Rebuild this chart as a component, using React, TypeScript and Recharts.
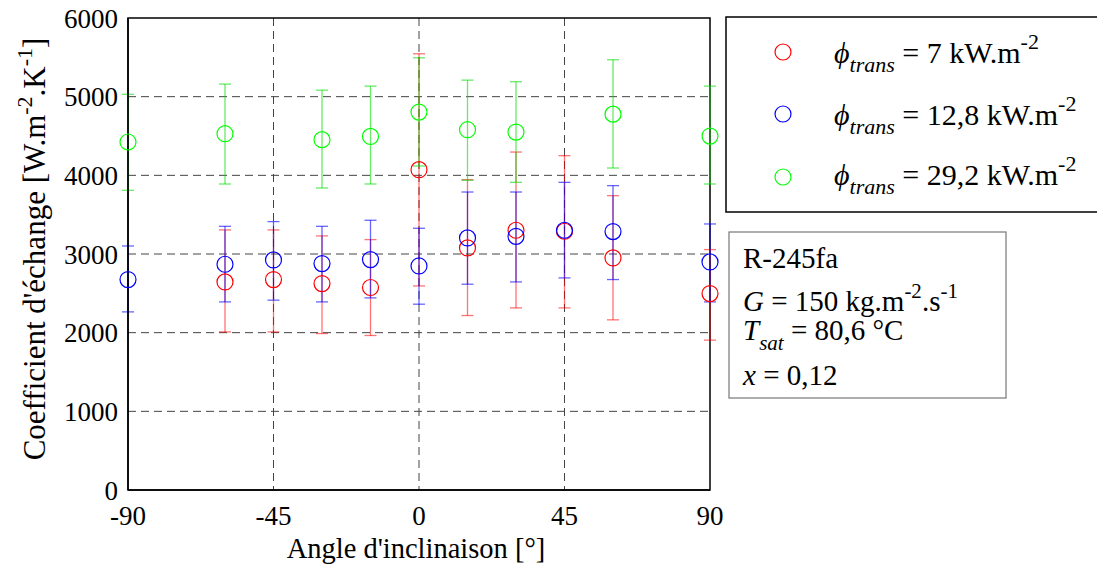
import React from "react";
import {
  ScatterChart,
  Scatter,
  XAxis,
  YAxis,
  CartesianGrid,
  ErrorBar,
  ReferenceArea,
} from "recharts";

// angles [°] and transfer coefficients [W.m-2.K-1]
const redAngles = [-60, -45, -30, -15, 0, 15, 30, 45, 60, 90];
const redValues = [2645, 2675, 2624, 2574, 4072, 3077, 3302, 3289, 2950, 2497];
const redLow = [2010, 2010, 1989, 1964, 2594, 2218, 2315, 2315, 2163, 1905];
const redHigh = [3306, 3306, 3230, 3183, 5545, 3945, 4296, 4250, 3742, 3056];

const blueAngles = [-90, -60, -45, -30, -15, 0, 15, 30, 45, 60, 90];
const blueValues = [2675, 2870, 2925, 2878, 2929, 2848, 3204, 3225, 3302, 3285, 2899];
const blueLow = [2264, 2391, 2413, 2391, 2442, 2362, 2616, 2645, 2696, 2675, 2391];
const blueHigh = [3102, 3352, 3412, 3352, 3429, 3327, 3788, 3788, 3911, 3869, 3382];

const greenAngles = [-90, -60, -30, -15, 0, 15, 30, 60, 90];
const greenValues = [4424, 4529, 4453, 4495, 4804, 4580, 4550, 4778, 4499];
const greenLow = [3810, 3890, 3839, 3890, 4118, 3937, 3911, 4093, 3890];
const greenHigh = [5030, 5160, 5083, 5134, 5494, 5210, 5190, 5469, 5134];

const xTicks = [-90, -45, 0, 45, 90];
const yTicks = [0, 1000, 2000, 3000, 4000, 5000, 6000];

const FONT = "'Liberation Serif', 'Times New Roman', serif";

function build(angles: number[], values: number[], low: number[], high: number[]) {
  return angles.map((a, i) => ({
    x: a,
    y: values[i],
    err: [values[i] - low[i], high[i] - values[i]],
  }));
}

const redData = build(redAngles, redValues, redLow, redHigh);
const blueData = build(blueAngles, blueValues, blueLow, blueHigh);
const greenData = build(greenAngles, greenValues, greenLow, greenHigh);

const ring = (color: string) => (props: any) => (
  <circle cx={props.cx} cy={props.cy} r={8} fill="none" stroke={color} strokeWidth={1.2} />
);

const XLabel = (props: any) => {
  const vb = props.viewBox;
  return (
    <text x={vb.x + vb.width / 2 - 3} y={558} textAnchor="middle" fontFamily={FONT} fontSize={28.5} fill="#000">
      Angle d'inclinaison [°]
    </text>
  );
};

const YLabel = () => (
  <text
    x={0}
    y={45}
    transform="rotate(-90)"
    textAnchor="middle"
    fontFamily={FONT}
    fontSize={31}
    fill="#000"
  >
    <tspan x={-249}>Coefficient d'échange [W.m</tspan>
    <tspan fontSize={22} dy={-13}>-2</tspan>
    <tspan dy={13}>.K</tspan>
    <tspan fontSize={22} dy={-13}>-1</tspan>
    <tspan dy={13}>]</tspan>
  </text>
);

function Overlay() {
  const leg = [
    { color: "#ff0000", val: "7", cy: 52, base: 63 },
    { color: "#0000ff", val: "12,8", cy: 114, base: 125 },
    { color: "#00ff00", val: "29,2", cy: 177, base: 185 },
  ];
  return (
    <svg
      width={1097}
      height={564}
      style={{ position: "absolute", left: 0, top: 0, pointerEvents: "none" }}
      fontFamily={FONT}
    >
      <YLabel />
      <rect x={726} y={17} width={400} height={195} fill="#fff" stroke="#000" strokeWidth={1.5} />
      {leg.map((l) => (
        <g key={l.val}>
          <circle cx={783} cy={l.cy} r={8} fill="none" stroke={l.color} strokeWidth={1.2} />
          <text x={834} y={l.base} fontSize={30} fill="#000">
            <tspan fontStyle="italic">ϕ</tspan>
            <tspan fontStyle="italic" fontSize={22} dy={9}>trans</tspan>
            <tspan dy={-9}> = {l.val} kW.m</tspan>
            <tspan fontSize={22} dy={-14}>-2</tspan>
          </text>
        </g>
      ))}
      <rect x={729} y={232} width={277} height={166} fill="#fff" stroke="#777" strokeWidth={1.2} />
      <text x={743} y={268} fontSize={29} fill="#000">R-245fa</text>
      <text x={743} y={311} fontSize={29} fill="#000">
        <tspan fontStyle="italic">G</tspan>
        <tspan> = 150 kg.m</tspan>
        <tspan fontSize={21} dy={-13}>-2</tspan>
        <tspan dy={13}>.s</tspan>
        <tspan fontSize={21} dy={-13}>-1</tspan>
      </text>
      <text x={743} y={340} fontSize={29} fill="#000">
        <tspan fontStyle="italic">T</tspan>
        <tspan fontStyle="italic" fontSize={21} dy={10}>sat</tspan>
        <tspan dy={-10}> = 80,6 °C</tspan>
      </text>
      <text x={743} y={385} fontSize={29} fill="#000">
        <tspan fontStyle="italic">x</tspan>
        <tspan> = 0,12</tspan>
      </text>
    </svg>
  );
}

export default function App() {
  const tick = { fontFamily: FONT, fontSize: 27, fill: "#000" };
  return (
    <div style={{ position: "absolute", left: 0, top: 0, width: 1097, height: 564, background: "#fff" }}>
      <ScatterChart width={1097} height={564} margin={{ top: 18, right: 387, bottom: 0, left: 0 }}>
        <CartesianGrid
          stroke="#444"
          strokeDasharray="8 5"
          horizontalValues={[1000, 2000, 3000, 4000, 5000]}
          verticalValues={[-45, 0, 45]}
        />
        <XAxis
          type="number"
          dataKey="x"
          domain={[-90, 90]}
          ticks={xTicks}
          height={74}
          tickLine={false}
          tickSize={15}
          tickMargin={1}
          axisLine={{ stroke: "#000", strokeWidth: 1.5 }}
          tick={tick}
          label={<XLabel />}
        />
        <YAxis
          type="number"
          dataKey="y"
          domain={[0, 6000]}
          ticks={yTicks}
          width={128}
          tickLine={false}
          tickSize={8}
          tickMargin={2}
          axisLine={{ stroke: "#000", strokeWidth: 1.5 }}
          tick={tick}
        />
        <ReferenceArea x1={-90} x2={90} y1={0} y2={6000} fill="none" stroke="#000" strokeWidth={1.5} />
        <Scatter data={redData} shape={ring("#ff0000")} isAnimationActive={false}>
          <ErrorBar dataKey="err" direction="y" width={6} stroke="#ff0000" strokeOpacity={0.55} strokeWidth={1.3} />
        </Scatter>
        <Scatter data={blueData} shape={ring("#0000ff")} isAnimationActive={false}>
          <ErrorBar dataKey="err" direction="y" width={6} stroke="#0000ff" strokeOpacity={0.6} strokeWidth={1.3} />
        </Scatter>
        <Scatter data={greenData} shape={ring("#00ff00")} isAnimationActive={false}>
          <ErrorBar dataKey="err" direction="y" width={6} stroke="#00dd00" strokeOpacity={0.6} strokeWidth={1.3} />
        </Scatter>
      </ScatterChart>
      <Overlay />
    </div>
  );
}
